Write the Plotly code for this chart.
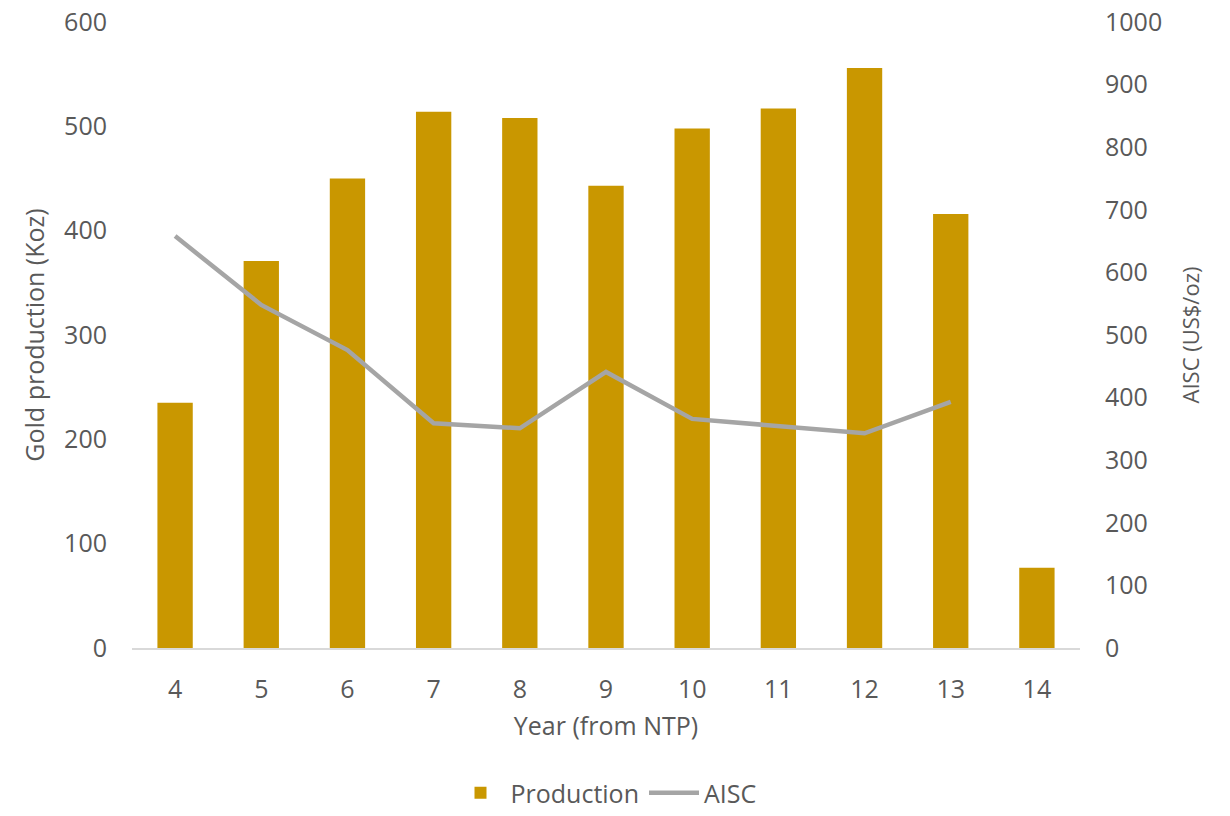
import plotly.graph_objects as go

years = ["4", "5", "6", "7", "8", "9", "10", "11", "12", "13", "14"]
production = [235, 371, 450, 514, 508, 443, 498, 517, 556, 416, 77]
aisc_years = ["4", "5", "6", "7", "8", "9", "10", "11", "12", "13"]
aisc = [658, 548, 476, 359, 351, 441, 366, 355, 343, 393]

fam = "Open Sans, Noto Sans, sans-serif"
font = dict(family=fam, size=25, color="#595959")

fig = go.Figure()
fig.add_trace(go.Bar(x=years, y=production, name="Production",
                     marker=dict(color="#C99700", line=dict(width=0)), width=0.41))
fig.add_trace(go.Scatter(x=aisc_years, y=aisc, name="AISC", yaxis="y2", mode="lines",
                         line=dict(color="#A5A5A5", width=4.5)))

fig.update_layout(
    width=1230, height=816,
    margin=dict(l=132, r=150, t=22, b=168),
    paper_bgcolor="white", plot_bgcolor="white",
    font=font,
    showlegend=True,
    legend=dict(orientation="h", x=0.5, xanchor="center", yref="container", y=0,
                yanchor="bottom", font=font, traceorder="normal", itemwidth=50),
    xaxis=dict(type="category", range=[-0.5, 10.5], showline=True, linecolor="#D9D9D9",
               linewidth=1.5, ticks="", showgrid=False, automargin=False,
               ticklabelstandoff=18,
               title=dict(text="Year (from NTP)", font=font, standoff=14), tickfont=font),
    yaxis=dict(range=[0, 600], dtick=100, showgrid=False, zeroline=False, showline=False,
               ticks="", ticklabelstandoff=24, automargin=False, ticklabeloverflow="allow",
               title=dict(text="Gold production (Koz)", font=font, standoff=12), tickfont=font),
    yaxis2=dict(range=[0, 1000], dtick=100, overlaying="y", side="right", showgrid=False,
                zeroline=False, showline=False, ticks="", ticklabelstandoff=24, automargin=False,
                ticklabeloverflow="allow",
                title=dict(text="AISC (US$/oz)", font=dict(family=fam, size=22, color="#595959"),
                           standoff=22), tickfont=font),
)

fig.write_html("out.html", config={"displayModeBar": False},
               post_script="document.body.style.margin='0';document.body.style.overflow='hidden';")
